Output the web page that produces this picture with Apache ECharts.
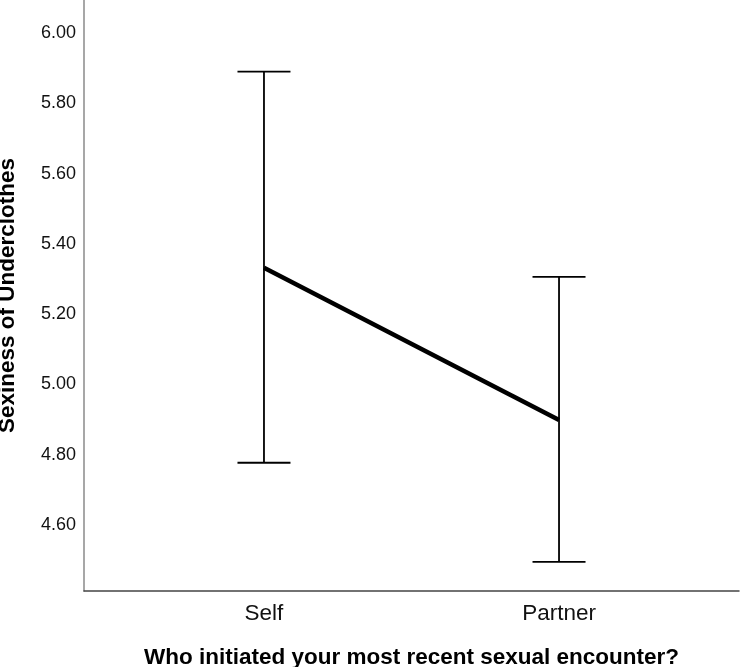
<!DOCTYPE html>
<html>
<head>
<meta charset="utf-8">
<script src="https://cdn.jsdelivr.net/npm/echarts@6/dist/echarts.min.js"></script>
<style>
  html, body { margin: 0; padding: 0; background: #fff; }
  #chart { width: 740px; height: 667px; }
</style>
</head>
<body>
<div id="chart"></div>
<script>
var categories = ['Self', 'Partner'];
var means = [5.332, 4.899];
var lower = [4.777, 4.495];
var upper = [5.89, 5.306];
var yTicks = [4.6, 4.8, 5.0, 5.2, 5.4, 5.6, 5.8, 6.0];

var chart = echarts.init(document.getElementById('chart'));

var option = {
    animation: false,
    backgroundColor: '#fff',
    grid: { left: 84, right: 1, top: 0, bottom: 76, outerBoundsMode: 'none', containLabel: false },
    xAxis: {
        type: 'value',
        min: -0.61,
        max: 1.61,
        name: 'Who initiated your most recent sexual encounter?',
        nameLocation: 'middle',
        nameGap: 55,
        nameTextStyle: { fontFamily: 'Liberation Sans', fontWeight: 'bold', fontSize: 22.5, color: '#000' },
        axisLine: { onZero: false, lineStyle: { color: '#444', width: 1.5 } },
        axisTick: { show: false },
        splitLine: { show: false },
        axisLabel: {
            customValues: [0, 1],
            formatter: function(v) { return categories[Math.round(v)]; },
            fontFamily: 'Liberation Sans',
            fontSize: 22.5,
            color: '#111',
            margin: 11
        }
    },
    yAxis: {
        type: 'value',
        min: 4.412,
        max: 6.094,
        name: 'Sexiness of Underclothes',
        nameLocation: 'middle',
        nameGap: 65,
        nameTextStyle: { fontFamily: 'Liberation Sans', fontWeight: 'bold', fontSize: 22.5, color: '#000' },
        axisLine: { show: true, onZero: false, lineStyle: { color: '#8a8a8a', width: 1.5 } },
        axisTick: { show: false },
        splitLine: { show: false },
        axisLabel: {
            customValues: yTicks,
            formatter: function(v) { return v.toFixed(2); },
            fontFamily: 'Liberation Sans',
            fontSize: 18,
            color: '#111',
            margin: 8
        }
    },
    series: [
        {
            type: 'custom',
            renderItem: function(params, api) {
                var x = api.value(0);
                var top = api.coord([x, api.value(2)]);
                var bot = api.coord([x, api.value(1)]);
                var hw = 26.5;
                var style = { stroke: '#000', lineWidth: 1.8 };
                return {
                    type: 'group',
                    children: [
                        { type: 'line', shape: { x1: top[0], y1: top[1], x2: bot[0], y2: bot[1] }, style: style },
                        { type: 'line', shape: { x1: top[0] - hw, y1: top[1], x2: top[0] + hw, y2: top[1] }, style: style },
                        { type: 'line', shape: { x1: bot[0] - hw, y1: bot[1], x2: bot[0] + hw, y2: bot[1] }, style: style }
                    ]
                };
            },
            data: categories.map(function(c, i) { return [i, lower[i], upper[i]]; }),
            z: 2
        },
        {
            type: 'line',
            data: categories.map(function(c, i) { return [i, means[i]]; }),
            symbol: 'none',
            lineStyle: { color: '#000', width: 4.5 },
            z: 3
        }
    ]
};

chart.setOption(option);
</script>
</body>
</html>
